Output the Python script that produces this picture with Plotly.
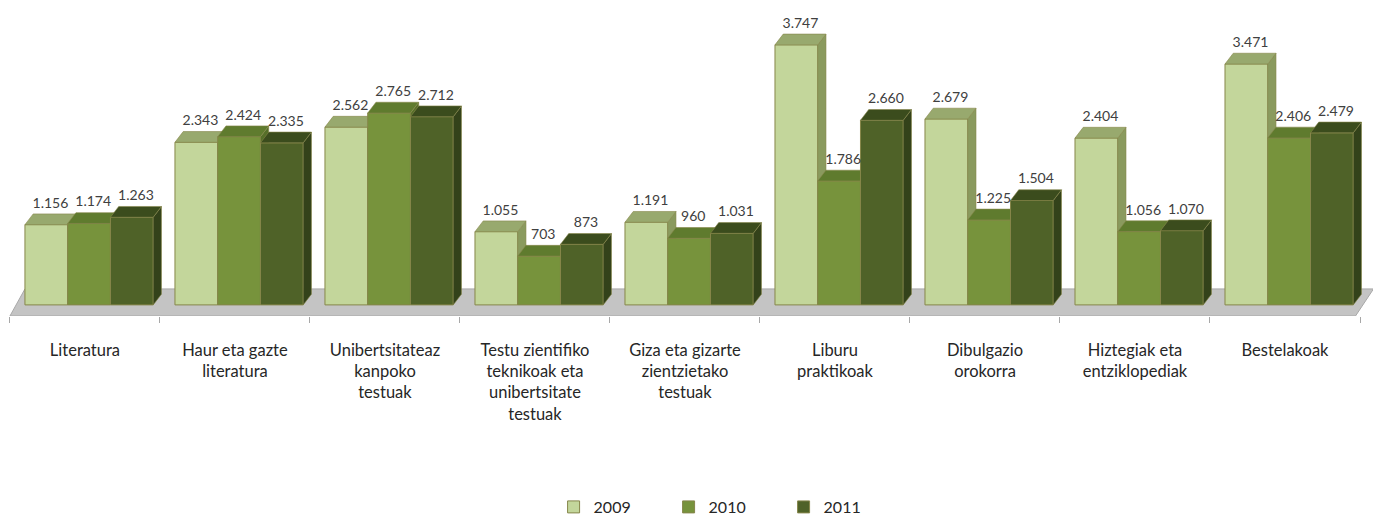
import plotly.graph_objects as go

categories = [
    "Literatura",
    "Haur eta gazte<br>literatura",
    "Unibertsitateaz<br>kanpoko<br>testuak",
    "Testu zientifiko<br>teknikoak eta<br>unibertsitate<br>testuak",
    "Giza eta gizarte<br>zientzietako<br>testuak",
    "Liburu<br>praktikoak",
    "Dibulgazio<br>orokorra",
    "Hiztegiak eta<br>entziklopediak",
    "Bestelakoak",
]
years = ["2009", "2010", "2011"]
v2009 = [1156, 2343, 2562, 1055, 1191, 3747, 2679, 2404, 3471]
v2010 = [1174, 2424, 2765, 703, 960, 1786, 1225, 1056, 2406]
v2011 = [1263, 2335, 2712, 873, 1031, 2660, 1504, 1070, 2479]
series = [v2009, v2010, v2011]

front_colors = ["#c3d69b", "#77933c", "#4f6228"]
top_colors = ["#98a96e", "#5f7b2e", "#3b4c1d"]
side_colors = ["#8a9a5e", "#566f29", "#33421a"]
edge = "#86864a"

W = 0.285      # bar width (category units)
START = -0.40  # left edge of the group relative to category centre
DX = 0.055     # depth offset in x (category units)
DY = 155       # depth offset in y (value units)

fig = go.Figure()

n = len(categories)
for j, (yr, vals) in enumerate(zip(years, series)):
    fx, tx, sx = [], [], []
    fy, ty, sy = [], [], []
    for i, v in enumerate(vals):
        x0 = i + START + j * W
        x1 = x0 + W
        fx += [x0, x1, x1, x0, x0, None]
        fy += [0, 0, v, v, 0, None]
        tx += [x0, x1, x1 + DX, x0 + DX, x0, None]
        ty += [v, v, v + DY, v + DY, v, None]
        sx += [x1, x1 + DX, x1 + DX, x1, x1, None]
        sy += [0, DY, v + DY, v, 0, None]
    fig.add_trace(go.Scatter(x=fx, y=fy, mode="lines", fill="toself",
                             fillcolor=front_colors[j], line=dict(color=edge, width=1),
                             legendgroup=yr, showlegend=False, hoverinfo="skip"))
    fig.add_trace(go.Scatter(x=sx, y=sy, mode="lines", fill="toself",
                             fillcolor=side_colors[j], line=dict(color=edge, width=0.6),
                             legendgroup=yr, showlegend=False, hoverinfo="skip"))
    fig.add_trace(go.Scatter(x=tx, y=ty, mode="lines", fill="toself",
                             fillcolor=top_colors[j], line=dict(color=edge, width=0.6),
                             legendgroup=yr, showlegend=False, hoverinfo="skip"))

# legend entries (square swatches)
for j, yr in enumerate(years):
    fig.add_trace(go.Bar(x=[None], y=[None], name=yr, legendgroup=yr,
                         marker=dict(color=front_colors[j], line=dict(color=edge, width=1)),
                         hoverinfo="skip"))

# value labels
for j, vals in enumerate(series):
    xs = [i + START + j * W + W / 2 + DX / 2 for i in range(n)]
    ys = [v + DY + 40 for v in vals]
    fig.add_trace(go.Scatter(x=xs, y=ys, mode="text", text=vals,
                             texttemplate="%{text:,.0f}", textposition="top center",
                             textfont=dict(family="Lato, Open Sans, sans-serif", size=14, color="#404040"),
                             showlegend=False, hoverinfo="skip", cliponaxis=False))

# floor
fig.add_shape(type="path",
              path="M -0.5,-160 L 8.47,-160 L 8.59,230 L -0.4,230 Z",
              xref="x", yref="y", fillcolor="#c4c4c4",
              line=dict(color="#a8a8a8", width=1), layer="below")

H = 508
fig.update_layout(
    width=1373, height=H,
    margin=dict(l=0, r=6, t=12, b=200, pad=0, autoexpand=False),
    paper_bgcolor="white", plot_bgcolor="white",
    separators=",.",
    font=dict(family="Lato, Open Sans, sans-serif", size=16, color="#262626"),
    xaxis=dict(range=[-0.513, 8.6], tickvals=list(range(n)), ticktext=categories,
               showgrid=False, zeroline=False, showline=False, ticks="",
               ticklabelstandoff=22, automargin=False,
               minor=dict(tickvals=[k - 0.5 for k in range(n + 1)], ticks="outside",
                          ticklen=6, tickcolor="#a8a8a8", showgrid=False),
               tickfont=dict(size=16.5, color="#262626")),
    yaxis=dict(range=[-160, 4105], visible=False, showgrid=False, zeroline=False,
               automargin=False),
    legend=dict(orientation="h", xref="container", yref="container",
                x=0.523, xanchor="center", y=(H - 499) / H, yanchor="middle",
                font=dict(size=16, color="#262626"), entrywidth=70, itemwidth=30,
                traceorder="normal"),
    showlegend=True,
    barmode="overlay",
)

fig.write_html("out.html")
